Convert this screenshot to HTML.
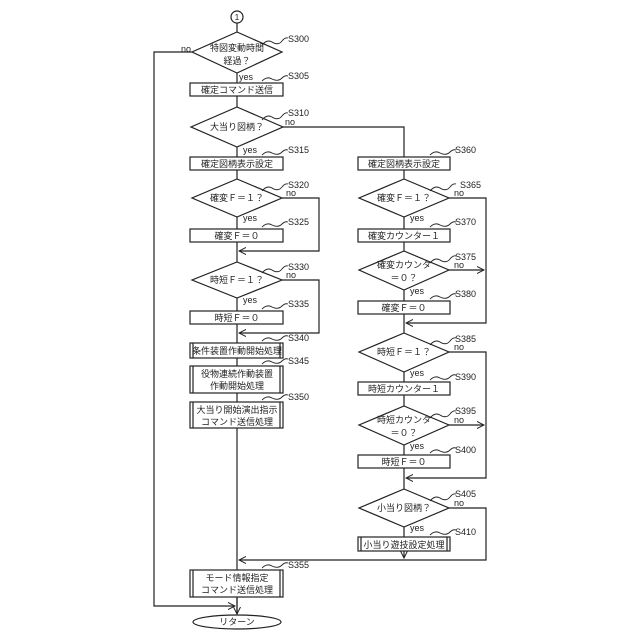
<!DOCTYPE html>
<html><head><meta charset="utf-8"><style>
body{margin:0;background:#fff}
svg{display:block}
text{font-family:"Liberation Sans","Noto Sans CJK JP",sans-serif;font-size:9px;fill:#222}
.t{text-anchor:middle}
.s{font-size:8.5px}
</style></head><body>
<svg width="640" height="640" viewBox="0 0 640 640" xmlns="http://www.w3.org/2000/svg">
<defs><marker id="a" markerWidth="8" markerHeight="8" refX="7" refY="4" orient="auto" markerUnits="userSpaceOnUse"><path d="M0,0.5 L7,4 L0,7.5" fill="none" stroke="#222" stroke-width="1"/></marker></defs>
<g stroke="#222" stroke-width="1.2" fill="none">
<circle cx="237" cy="17" r="6"/>
<!-- main left line -->
<line x1="237" y1="23" x2="237" y2="614"/>
<!-- S300 -->
<polygon points="237,32 282,52 237,73 192,52" fill="#fff"/>
<polyline points="192,52 154,52 154,606 235,606" marker-end="url(#a)"/>
<rect x="190" y="83" width="93" height="13" fill="#fff"/>
<polygon points="237,107 283,127 237,147 191,127" fill="#fff"/>
<polyline points="283,127 404,127 404,157"/>
<rect x="190" y="157" width="93" height="13" fill="#fff"/>
<polygon points="237,179 282,198 237,217 192,198" fill="#fff"/>
<polyline points="282,198 319,198 319,251 239,251" marker-end="url(#a)"/>
<rect x="190" y="229" width="93" height="13" fill="#fff"/>
<polygon points="237,262 282,280 237,298 192,280" fill="#fff"/>
<polyline points="282,280 319,280 319,333 239,333" marker-end="url(#a)"/>
<rect x="190" y="311" width="93" height="13" fill="#fff"/>
<rect x="190" y="343" width="93" height="15" fill="#fff"/>
<line x1="193" y1="343" x2="193" y2="358"/><line x1="280" y1="343" x2="280" y2="358"/>
<rect x="190" y="366" width="93" height="27" fill="#fff"/>
<line x1="193" y1="366" x2="193" y2="393"/><line x1="280" y1="366" x2="280" y2="393"/>
<rect x="190" y="402" width="93" height="26" fill="#fff"/>
<line x1="193" y1="402" x2="193" y2="428"/><line x1="280" y1="402" x2="280" y2="428"/>
<rect x="190" y="570" width="93" height="27" fill="#fff"/>
<line x1="193" y1="570" x2="193" y2="597"/><line x1="280" y1="570" x2="280" y2="597"/>
<line x1="237" y1="597" x2="237" y2="614" marker-end="url(#a)"/>
<ellipse cx="237" cy="622" rx="44" ry="7" fill="#fff"/>
<!-- right column -->
<line x1="404" y1="157" x2="404" y2="558" marker-end="url(#a)"/>
<rect x="358" y="157" width="92" height="13" fill="#fff"/>
<polygon points="404,179 449,198 404,217 359,198" fill="#fff"/>
<polyline points="449,198 486,198 486,323 406,323" marker-end="url(#a)"/>
<rect x="358" y="229" width="92" height="13" fill="#fff"/>
<polygon points="404,251 449,270 404,290 359,270" fill="#fff"/>
<line x1="449" y1="270" x2="484" y2="270" marker-end="url(#a)"/>
<rect x="358" y="301" width="92" height="13" fill="#fff"/>
<polygon points="404,333 449,352 404,372 359,352" fill="#fff"/>
<polyline points="449,352 486,352 486,478 406,478" marker-end="url(#a)"/>
<rect x="358" y="382" width="92" height="13" fill="#fff"/>
<polygon points="404,406 449,425 404,445 359,425" fill="#fff"/>
<line x1="449" y1="425" x2="484" y2="425" marker-end="url(#a)"/>
<rect x="358" y="455" width="92" height="13" fill="#fff"/>
<polygon points="404,489 449,508 404,527 359,508" fill="#fff"/>
<polyline points="449,508 486,508 486,560 239,560" marker-end="url(#a)"/>
<rect x="358" y="537" width="92" height="14" fill="#fff"/>
<line x1="361" y1="537" x2="361" y2="551"/><line x1="447" y1="537" x2="447" y2="551"/>
</g>
<!-- squiggles -->
<g stroke="#222" stroke-width="0.9" fill="none">
<path d="M262,45 q5,-6 10,-3 q6,4 10,-1 q3,-4 6,-3"/>
<path d="M262,81 q5,-5 10,-2 q6,3 10,-1 q3,-3 6,-2"/>
<path d="M262,120 q5,-6 10,-3 q6,4 10,-1 q3,-4 6,-3"/>
<path d="M262,155 q5,-5 10,-2 q6,3 10,-1 q3,-3 6,-2"/>
<path d="M262,191 q5,-6 10,-3 q6,4 10,-1 q3,-4 6,-3"/>
<path d="M262,227 q5,-5 10,-2 q6,3 10,-1 q3,-3 6,-2"/>
<path d="M262,273 q5,-6 10,-3 q6,4 10,-1 q3,-4 6,-3"/>
<path d="M262,309 q5,-5 10,-2 q6,3 10,-1 q3,-3 6,-2"/>
<path d="M262,341 q5,-5 10,-2 q6,3 10,-1 q3,-3 6,-2"/>
<path d="M262,364 q5,-5 10,-2 q6,3 10,-1 q3,-3 6,-2"/>
<path d="M262,400 q5,-5 10,-2 q6,3 10,-1 q3,-3 6,-2"/>
<path d="M262,568 q5,-5 10,-2 q6,3 10,-1 q3,-3 6,-2"/>
<path d="M430,155 q5,-5 10,-2 q6,3 10,-1 q3,-3 6,-2"/>
<path d="M430,191 q5,-6 10,-3 q6,4 10,-1 q3,-4 6,-3"/>
<path d="M430,227 q5,-5 10,-2 q6,3 10,-1 q3,-3 6,-2"/>
<path d="M430,263 q5,-6 10,-3 q6,4 10,-1 q3,-4 6,-3"/>
<path d="M430,299 q5,-5 10,-2 q6,3 10,-1 q3,-3 6,-2"/>
<path d="M430,345 q5,-6 10,-3 q6,4 10,-1 q3,-4 6,-3"/>
<path d="M430,380 q5,-5 10,-2 q6,3 10,-1 q3,-3 6,-2"/>
<path d="M430,418 q5,-6 10,-3 q6,4 10,-1 q3,-4 6,-3"/>
<path d="M430,453 q5,-5 10,-2 q6,3 10,-1 q3,-3 6,-2"/>
<path d="M430,501 q5,-6 10,-3 q6,4 10,-1 q3,-4 6,-3"/>
<path d="M430,535 q5,-5 10,-2 q6,3 10,-1 q3,-3 6,-2"/>
</g>
<g class="s">
<text x="288" y="42">S300</text><text x="288" y="79">S305</text><text x="288" y="116">S310</text>
<text x="288" y="153">S315</text><text x="288" y="188">S320</text><text x="288" y="225">S325</text>
<text x="288" y="270">S330</text><text x="288" y="307">S335</text><text x="288" y="341">S340</text>
<text x="288" y="364">S345</text><text x="288" y="400">S350</text><text x="288" y="568">S355</text>
<text x="455" y="153">S360</text><text x="460" y="188">S365</text><text x="455" y="225">S370</text>
<text x="455" y="260">S375</text><text x="455" y="297">S380</text><text x="455" y="342">S385</text>
<text x="455" y="380">S390</text><text x="455" y="414">S395</text><text x="455" y="453">S400</text>
<text x="455" y="497">S405</text><text x="455" y="535">S410</text>
<text x="181" y="52">no</text><text x="285" y="125">no</text><text x="286" y="196">no</text><text x="286" y="278">no</text>
<text x="454" y="196">no</text><text x="454" y="268">no</text><text x="454" y="350">no</text><text x="454" y="423">no</text><text x="454" y="506">no</text>
<text x="239" y="80">yes</text><text x="243" y="153">yes</text><text x="243" y="221">yes</text><text x="243" y="303">yes</text>
<text x="410" y="221">yes</text><text x="410" y="294">yes</text><text x="410" y="376">yes</text><text x="410" y="449">yes</text><text x="410" y="531">yes</text>
</g>
<g class="t">
<text x="237" y="20" style="font-size:8px">1</text>
<text x="237" y="51">特図変動時間</text><text x="237" y="64">経過？</text>
<text x="237" y="93">確定コマンド送信</text>
<text x="237" y="130">大当り図柄？</text>
<text x="237" y="167">確定図柄表示設定</text>
<text x="237" y="201">確変Ｆ＝１？</text>
<text x="237" y="239">確変Ｆ＝０</text>
<text x="237" y="283">時短Ｆ＝１？</text>
<text x="237" y="321">時短Ｆ＝０</text>
<text x="237" y="354">条件装置作動開始処理</text>
<text x="237" y="377">役物連続作動装置</text><text x="237" y="389">作動開始処理</text>
<text x="237" y="413">大当り開始演出指示</text><text x="237" y="425">コマンド送信処理</text>
<text x="237" y="581">モード情報指定</text><text x="237" y="593">コマンド送信処理</text>
<text x="237" y="625">リターン</text>
<text x="404" y="167">確定図柄表示設定</text>
<text x="404" y="201">確変Ｆ＝１？</text>
<text x="404" y="239">確変カウンター１</text>
<text x="404" y="268">確変カウンタ</text><text x="404" y="281">＝０？</text>
<text x="404" y="311">確変Ｆ＝０</text>
<text x="404" y="355">時短Ｆ＝１？</text>
<text x="404" y="392">時短カウンター１</text>
<text x="404" y="423">時短カウンタ</text><text x="404" y="436">＝０？</text>
<text x="404" y="465">時短Ｆ＝０</text>
<text x="404" y="511">小当り図柄？</text>
<text x="404" y="548">小当り遊技設定処理</text>
</g>
</svg>
</body></html>
